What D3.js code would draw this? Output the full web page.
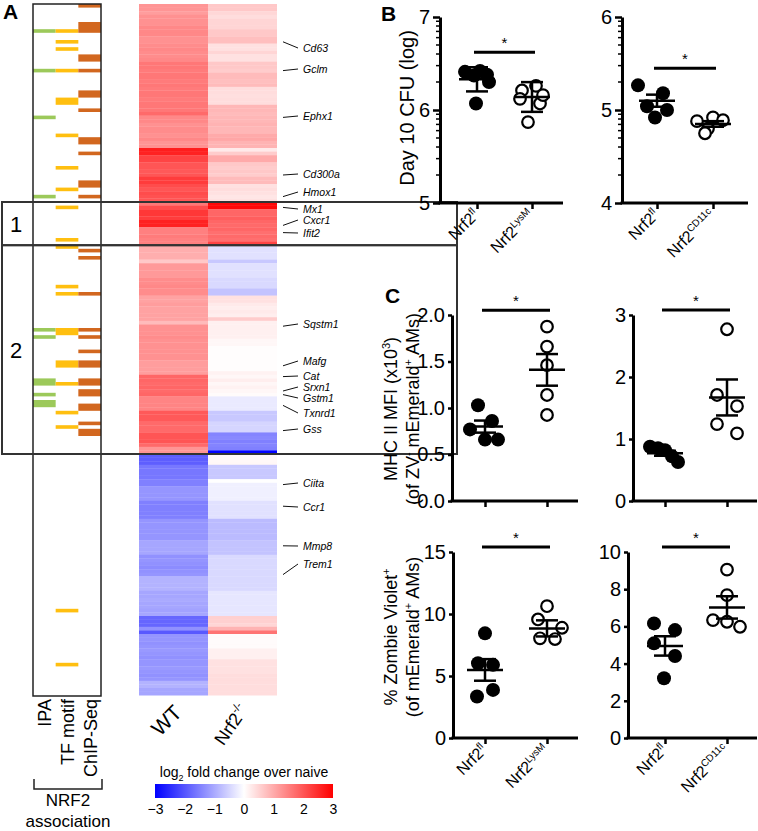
<!DOCTYPE html>
<html><head><meta charset="utf-8">
<script src="https://cdn.jsdelivr.net/npm/d3@7"></script>
<style>body{margin:0;background:#fff}svg{display:block}</style>
</head><body><svg id="c" width="758" height="831"></svg>
<script>
// ---------------- DATA ----------------
// Panel A heatmap: log2 fold change over naive, one value per gene row (top to bottom)
const wtLog2 = [
 1.25,1.25,1.15,1.3,1.3,1.3,1.4,1.4,1.4,1.3,
 1.3,1.35,1.4,1.35,1.35,1.4,1.6,1.6,1.55,1.6,
 1.6,1.55,1.6,1.55,1.6,1.6,1.55,1.6,1.6,1.6,
 1.75,1.4,1.4,1.3,1.35,1.35,1.3,1.4,1.25,1.3,
 2.65,2.6,2.2,2.2,2.0,2.0,1.95,2.0,2.3,2.3,
 2.1,2.0,2.1,2.05,2.0,1.6,2.1,2.35,2.35,2.3,
 2.6,2.6,1.5,1.5,1.55,1.5,1.5,0.95,0.95,0.95,
 0.95,0.65,1.2,1.2,1.2,1.2,1.35,1.35,1.4,1.35,
 1.35,1.1,1.1,1.15,1.1,1.1,1.1,1.1,0.8,1.3,
 1.3,1.3,1.35,1.3,1.3,1.3,1.3,1.3,1.3,1.15,
 1.15,1.15,1.15,1.8,1.8,1.75,1.8,1.75,1.8,1.45,
 1.45,1.45,1.45,1.95,1.95,1.95,1.75,1.75,1.75,2.0,
 2.0,2.0,1.75,1.25,1.25,-1.9,-1.9,-1.9,-1.6,-1.6,
 -1.6,-1.6,-1.5,-1.5,-1.25,-1.25,-1.25,-1.25,-1.5,-1.5,
 -1.5,-1.5,-1.5,-1.25,-1.25,-1.25,-1.25,-1.25,-1.25,-1.05,
 -1.05,-1.05,-1.05,-1.3,-1.25,-1.3,-1.35,-1.3,-1.25,-0.9,
 -0.9,-0.9,-0.9,-1.05,-1.05,-1.0,-1.05,-1.05,-1.1,-1.05,
 -1.8,-1.8,-1.8,-1.3,-1.95,-1.25,-1.25,-1.3,-1.25,-1.2,
 -1.25,-1.3,-1.25,-1.25,-1.2,-1.25,-1.3,-1.25,-0.9,-0.9,
 -1.05,-1.05];
const koLog2 = [
 0.65,0.65,0.47,0.4,0.5,0.5,0.5,0.65,0.65,0.75,
 0.75,0.35,0.35,0.5,0.35,0.35,0.65,0.65,0.6,0.8,
 0.8,0.75,0.8,0.4,0.4,0.38,0.4,0.4,0.85,0.85,
 0.8,0.85,0.85,0.9,0.85,0.85,1.0,1.05,0.9,0.9,
 0.25,0.6,1.0,1.0,0.65,0.6,0.65,0.6,0.8,0.8,
 0.35,0.4,0.35,0.3,0.35,2.9,2.9,1.8,1.8,1.9,
 1.8,1.75,1.8,1.7,1.75,1.7,2.2,-0.35,-0.35,-0.35,
 -0.35,-0.65,-0.35,-0.35,-0.35,-0.35,-0.45,-0.45,-0.45,-0.7,
 -0.7,0.35,0.35,0.25,0.2,0.25,0.2,0.6,0.18,0.18,
 0.18,0.18,0.18,0.1,0.1,0.02,0.02,0.02,0.02,0.02,
 0.02,0.02,0.15,0.1,0.2,0.1,0.15,0.1,0.05,-0.25,
 -0.25,-0.25,-0.25,-0.65,-0.65,-0.65,-0.5,-0.5,-0.5,-1.45,
 -1.4,-1.5,-1.45,-1.5,-3.0,0.08,0.08,0.1,-0.65,-0.65,
 -0.65,-0.65,0,-0.18,-0.18,-0.18,-0.18,-0.18,-0.35,-0.35,
 -0.35,-0.35,-0.35,-0.8,-0.8,-0.8,-0.8,-0.8,-0.8,-0.7,
 -0.7,-0.7,-0.7,-0.45,-0.45,-0.45,-0.45,-0.45,-0.45,-0.45,
 -0.45,-0.45,-0.45,-0.3,-0.3,-0.3,-0.3,-0.3,-0.3,-0.3,
 0.55,0.55,0.5,0.9,1.65,0.05,0.05,0.05,0.05,0.18,
 0.18,0.18,0.35,0.35,0.35,0.35,0.4,0.4,0.4,0.4,
 0.4,0.4];
const heatColumns = ["WT", "Nrf2"];
const heatColumnSup = ["", "-/-"];
const colorTicks = [-3, -2, -1, 0, 1, 2, 3];

// NRF2 association annotations: [first row, number of rows]
const annotColumns = ["IPA", "TF motif", "ChIP-Seq"];
const ipaRows = [[7,1],[18,1],[31,1],[53,1],[90,1],[92,1],[104,2],[108,1],[110,2]];
const tfRows = [[7,1],[10,1],[12,1],[18,1],[26,2],[36,1],[45,1],[51,1],[56,1],[65,1],[67,1],
  [78,1],[80,1],[90,2],[99,2],[105,1],[113,1],[117,1],[168,1],[183,1]];
const chipRows = [[0,1],[5,3],[14,2],[18,1],[24,2],[29,1],[37,2],[41,1],[49,2],[53,1],[68,1],
  [70,1],[80,1],[90,1],[92,1],[96,1],[99,2],[104,2],[107,2],[111,2],[116,1],[118,2]];

// clusters: [first row, row after last]
const clusterNames = ["1", "2"];
const clusterRows = [[55, 67], [67, 125]];

// labelled genes and their rows
const geneNames = ["Cd63","Gclm","Ephx1","Cd300a","Hmox1","Mx1","Cxcr1","Ifit2","Sqstm1","Mafg",
  "Cat","Srxn1","Gstm1","Txnrd1","Gss","Ciita","Ccr1","Mmp8","Trem1"];
const geneRows = [10,18,31,47,53,56,61,63,89,100,103,107,108,111,118,133,139,150,158];

// Panel B: Day 10 CFU (log10)
const cfuFlLysM = [6.41, 6.42, 6.37, 6.38, 6.30, 6.07];
const cfuKoLysM = [6.21, 6.26, 6.12, 6.07, 5.87, 6.16];
const cfuMeanLysM = [6.33, 6.14];
const cfuSemLysM = [0.13, 0.16];
const cfuFlCD11c = [5.265, 5.18, 5.04, 5.0, 4.92];
const cfuKoCD11c = [4.88, 4.92, 4.89, 4.80, 4.75];
const cfuMeanCD11c = [5.10, 4.85];
const cfuSemCD11c = [0.065, 0.03];

// Panel C top: MHC II MFI (x10^3)
const mhcFlLysM = [1.03, 0.77, 0.86, 0.66, 0.66];
const mhcKoLysM = [1.875, 1.66, 1.46, 1.14, 0.925];
const mhcMeanLysM = [0.80, 1.41];
const mhcSemLysM = [0.065, 0.17];
const mhcFlCD11c = [0.876, 0.85, 0.82, 0.72, 0.63];
const mhcKoCD11c = [2.77, 1.71, 1.53, 1.24, 1.09];
const mhcMeanCD11c = [0.77, 1.67];
const mhcSemCD11c = [0.04, 0.29];

// Panel C bottom: % Zombie Violet+
const zvFlLysM = [8.44, 6.03, 5.9, 3.88, 3.35];
const zvKoLysM = [10.63, 9.56, 8.89, 8.04, 7.98];
const zvMeanLysM = [5.49, 8.84];
const zvSemLysM = [0.87, 0.65];
const zvFlCD11c = [6.16, 5.8, 5.09, 4.41, 3.21];
const zvKoCD11c = [9.05, 7.68, 6.34, 6.25, 5.98];
const zvMeanCD11c = [4.95, 7.02];
const zvSemCD11c = [0.52, 0.6];

const groupsLysM = ["fl", "LysM"];
const groupsCD11c = ["fl", "CD11c"];

// ---------------- DRAW ----------------
const FONT = '"Liberation Sans", Arial, Helvetica, sans-serif';
const svg = d3.select("#c").attr("font-family", FONT);

// ===== Panel A =====
const nRows = wtLog2.length;
const yRow = d3.scaleBand().domain(d3.range(nRows)).range([4, 4 + 3.6 * nRows]);
const xHeat = d3.scaleBand().domain(heatColumns).range([139, 277]);
const heatColor = d3.scaleLinear().domain([-3, 0, 3]).range(["#0000ff", "#ffffff", "#ff0000"]);

[wtLog2, koLog2].forEach((vals, ci) => {
  svg.append("g").selectAll("rect").data(vals).join("rect")
    .attr("x", xHeat(heatColumns[ci])).attr("width", xHeat.bandwidth())
    .attr("y", (d, i) => yRow(i)).attr("height", yRow.bandwidth() + 0.3)
    .attr("fill", d => heatColor(d));
});

// annotation columns
const xAnn = d3.scaleBand().domain(annotColumns).range([33, 101]);
const annColors = ["#9cc95a", "#ffbf10", "#d2671f"];
[ipaRows, tfRows, chipRows].forEach((rows, ci) => {
  svg.append("g").selectAll("rect").data(rows).join("rect")
    .attr("x", xAnn(annotColumns[ci])).attr("width", xAnn.bandwidth())
    .attr("y", d => yRow(d[0])).attr("height", d => d[1] * yRow.bandwidth())
    .attr("fill", annColors[ci]);
});
svg.append("rect").attr("x", 33).attr("y", 4).attr("width", 68).attr("height", 692)
  .attr("fill", "none").attr("stroke", "#222").attr("stroke-width", 1.5);

// cluster boxes
clusterRows.forEach((r, i) => {
  const y0 = yRow(r[0]), y1 = yRow(r[1]);
  svg.append("rect").attr("x", 2).attr("y", y0).attr("width", 455).attr("height", y1 - y0)
    .attr("fill", "none").attr("stroke", "#333").attr("stroke-width", 2);
  svg.append("text").attr("x", 16).attr("y", (y0 + y1) / 2 + 8).attr("text-anchor", "middle")
    .attr("font-size", 22).text(clusterNames[i]);
});

// gene labels with leader lines
const geneLabelY = [48,69,116,174,192,209,220,233,324,361,376,387,398,413,429,483,507,546,564];
geneNames.forEach((g, i) => {
  const yc = yRow(geneRows[i]) + yRow.bandwidth() / 2;
  svg.append("line").attr("x1", 283).attr("x2", 298).attr("y1", yc).attr("y2", geneLabelY[i])
    .attr("stroke", "#111").attr("stroke-width", 1);
  svg.append("text").attr("x", 303).attr("y", geneLabelY[i]).attr("dy", "0.35em")
    .attr("font-size", 10.5).attr("font-style", "italic").text(g);
});

// column labels
[[183, 714, -45, 21], [249, 710, -55, 18]].forEach((p, i) => {
  const t = svg.append("text").attr("transform", `translate(${p[0]},${p[1]}) rotate(${p[2]})`)
    .attr("text-anchor", "end").attr("font-size", p[3]);
  t.append("tspan").text(heatColumns[i]);
  if (heatColumnSup[i]) t.append("tspan").attr("dy", -8).attr("font-size", 11).text(heatColumnSup[i]);
});

// annotation column labels
annotColumns.forEach((c, i) => {
  const x = xAnn(c) + xAnn.bandwidth() / 2 + 7;
  svg.append("text").attr("transform", `translate(${x},699) rotate(-90)`)
    .attr("text-anchor", "end").attr("font-size", 18).text(c);
});
svg.append("path").attr("d", "M34,779V789H102V779").attr("fill", "none").attr("stroke", "#222").attr("stroke-width", 1.5);
svg.append("text").attr("x", 68).attr("y", 806).attr("text-anchor", "middle").attr("font-size", 17).text("NRF2");
svg.append("text").attr("x", 68).attr("y", 827).attr("text-anchor", "middle").attr("font-size", 17).text("association");

// colour bar
const cbX = d3.scaleLinear().domain([-3, 3]).range([155, 333]);
const grad = svg.append("defs").append("linearGradient").attr("id", "cb");
colorTicks.forEach(v => grad.append("stop").attr("offset", (v + 3) / 6).attr("stop-color", heatColor(v)));
svg.append("rect").attr("x", 155).attr("y", 784).attr("width", 178).attr("height", 14).attr("fill", "url(#cb)");
const cbAxis = svg.append("g").attr("transform", "translate(0,798)")
  .call(d3.axisBottom(cbX).tickValues(colorTicks).tickFormat(d3.format("d")).tickSize(0).tickPadding(6));
cbAxis.select(".domain").remove();
cbAxis.attr("font-family", FONT).attr("font-size", 14).selectAll("text").attr("fill", "#000");
const cbt = svg.append("text").attr("x", 244).attr("y", 777).attr("text-anchor", "middle").attr("font-size", 14);
cbt.append("tspan").text("log");
cbt.append("tspan").attr("dy", 4).attr("font-size", 9).text("2");
cbt.append("tspan").attr("dy", -4).text(" fold change over naive");

// panel letters
[["A", 3, 19], ["B", 381, 21], ["C", 385, 303]].forEach(p =>
  svg.append("text").attr("x", p[1]).attr("y", p[2]).attr("font-size", 21).attr("font-weight", "bold").text(p[0]));

// ===== Dot plots =====
function dotPlot(p) {
  const g = svg.append("g");
  const ys = d3.scaleLinear().domain(p.domain).range([p.yBot, p.yTop]);
  const xs = d3.scalePoint().domain(p.groups).range(p.catX);
  // y axis
  const ga = g.append("g").attr("transform", `translate(${p.x0},0)`)
    .call(d3.axisLeft(ys).tickValues(p.ticks).tickFormat(p.fmt).tickSize(p.tick).tickSizeOuter(0).tickPadding(3));
  ga.attr("font-family", FONT).attr("font-size", 20);
  ga.select(".domain").attr("stroke", "#000").attr("stroke-width", 3);
  ga.selectAll(".tick line").attr("stroke", "#000").attr("stroke-width", 2.5);
  ga.selectAll("text").attr("fill", "#000");
  if (p.log) {
    const minor = [];
    d3.range(p.domain[0], p.domain[1]).forEach(e => d3.range(2, 10).forEach(k => minor.push(e + Math.log10(k))));
    g.append("g").selectAll("line").data(minor).join("line")
      .attr("x1", p.x0 - 4).attr("x2", p.x0).attr("y1", d => ys(d)).attr("y2", d => ys(d))
      .attr("stroke", "#000").attr("stroke-width", 1.5);
  }
  // x axis
  const gx = g.append("g").attr("transform", `translate(0,${p.yBot})`)
    .call(d3.axisBottom(xs).tickSize(6).tickFormat(""));
  gx.select(".domain").remove();
  gx.selectAll(".tick line").attr("stroke", "#000").attr("stroke-width", 2.5);
  g.append("line").attr("x1", p.x0 - 1.5).attr("x2", p.x1).attr("y1", p.yBot).attr("y2", p.yBot)
    .attr("stroke", "#000").attr("stroke-width", 3);
  if (p.labels) p.groups.forEach(gr => {
    const t = g.append("text").attr("transform", `translate(${xs(gr) + 3},${p.yBot + 13}) rotate(-45)`)
      .attr("text-anchor", "end").attr("font-size", 16);
    t.append("tspan").text("Nrf2");
    t.append("tspan").attr("dy", -6).attr("font-size", 10).text(gr);
  });
  // y title
  p.title.forEach((ln, i) => {
    const t = g.append("text").attr("transform", `translate(${ln.x},${p.titleY}) rotate(-90)`)
      .attr("text-anchor", "middle").attr("font-size", ln.fs);
    ln.parts.forEach(pt => {
      const s = t.append("tspan").text(pt[0]);
      if (pt[1]) s.attr("dy", pt[1]).attr("font-size", pt[2] || ln.fs);
    });
  });
  // significance
  const sy = ys(p.sigY);
  g.append("line").attr("x1", xs(p.groups[0]) - 3).attr("x2", xs(p.groups[1]) + 3).attr("y1", sy).attr("y2", sy)
    .attr("stroke", "#000").attr("stroke-width", 3);
  g.append("text").attr("x", (xs(p.groups[0]) + xs(p.groups[1])) / 2).attr("y", sy - 4)
    .attr("text-anchor", "middle").attr("font-size", 15).text("*");
  // points
  [p.a, p.b].forEach((vals, gi) => {
    const cx = xs(p.groups[gi]);
    const dx = gi === 0 ? p.adx : p.bdx;
    g.append("g").selectAll("circle").data(vals).join("circle")
      .attr("cx", (d, i) => cx + dx[i]).attr("cy", d => ys(d))
      .attr("r", gi === 0 ? 7 : 5.8)
      .attr("fill", gi === 0 ? "#000" : "#fff").attr("stroke", "#000").attr("stroke-width", gi === 0 ? 0 : 2.2);
  });
  // mean +/- sem
  p.groups.forEach((gr, gi) => {
    const cx = xs(gr), m = p.mean[gi], s = p.sem[gi];
    const l = (x1, x2, y1, y2) => g.append("line").attr("x1", x1).attr("x2", x2).attr("y1", y1).attr("y2", y2)
      .attr("stroke", "#000").attr("stroke-width", 2.5);
    l(cx - 18, cx + 18, ys(m), ys(m));
    l(cx, cx, ys(m - s), ys(m + s));
    l(cx - 11, cx + 11, ys(m - s), ys(m - s));
    l(cx - 11, cx + 11, ys(m + s), ys(m + s));
  });
}

const cfuTitle = [{ x: 414, fs: 20, parts: [["Day 10 CFU (log)"]] }];
const mhcTitle = [
  { x: 397, fs: 18, parts: [["MHC II MFI (x10"], ["3", -7, 11], [")", 7]] },
  { x: 419, fs: 18, parts: [["(of ZV"], ["-", -7, 11], [" mEmerald", 7], ["+", -7, 11], [" AMs)", 7]] }];
const zvTitle = [
  { x: 397, fs: 18, parts: [["% Zombie Violet"], ["+", -7, 11]] },
  { x: 419, fs: 18, parts: [["(of mEmerald"], ["+", -7, 11], [" AMs)", 7]] }];

dotPlot({ x0: 440, x1: 563, yTop: 17, yBot: 203, domain: [5, 7], ticks: [5, 6, 7], fmt: d3.format("d"), tick: 7, log: true, labels: true,
  groups: groupsLysM, catX: [477, 532], a: cfuFlLysM, adx: [-12, 3, -3, 10, 12, -1], b: cfuKoLysM, bdx: [-10, 4, -12, 8, -4, 11],
  mean: cfuMeanLysM, sem: cfuSemLysM, sigY: 6.62, title: cfuTitle, titleY: 108 });
dotPlot({ x0: 622, x1: 748, yTop: 17, yBot: 203, domain: [4, 6], ticks: [4, 5, 6], fmt: d3.format("d"), tick: 7, log: true, labels: true,
  groups: groupsCD11c, catX: [657, 713], a: cfuFlCD11c, adx: [-19, 6, -10, 10, -2], b: cfuKoCD11c, bdx: [-16, 0, 10, -5, -8],
  mean: cfuMeanCD11c, sem: cfuSemCD11c, sigY: 5.45, title: [], titleY: 108 });
dotPlot({ x0: 452, x1: 578, yTop: 315, yBot: 501, domain: [0, 2], ticks: [0, 0.5, 1, 1.5, 2], fmt: d3.format(".1f"), tick: 4, labels: false,
  groups: groupsLysM, catX: [485, 547], a: mhcFlLysM, adx: [-7, -15, 7, 0, 13], b: mhcKoLysM, bdx: [0, 0, 0, 0, 0],
  mean: mhcMeanLysM, sem: mhcSemLysM, sigY: 2.05, title: mhcTitle, titleY: 409 });
dotPlot({ x0: 633, x1: 757, yTop: 315, yBot: 501, domain: [0, 3], ticks: [0, 1, 2, 3], fmt: d3.format("d"), tick: 4, labels: false,
  groups: groupsCD11c, catX: [665, 727], a: mhcFlCD11c, adx: [-15, -7, 0, 7, 13], b: mhcKoCD11c, bdx: [0, -10, 10, -10, 10],
  mean: mhcMeanCD11c, sem: mhcSemCD11c, sigY: 3.08, title: [], titleY: 409 });
dotPlot({ x0: 453, x1: 578, yTop: 552, yBot: 738, domain: [0, 15], ticks: [0, 5, 10, 15], fmt: d3.format("d"), tick: 4, labels: true,
  groups: groupsLysM, catX: [485, 547], a: zvFlLysM, adx: [0, -7, 8, 8, -8], b: zvKoLysM, bdx: [0, -9, 15, -7, 8],
  mean: zvMeanLysM, sem: zvSemLysM, sigY: 15.4, title: zvTitle, titleY: 637 });
dotPlot({ x0: 628, x1: 757, yTop: 552, yBot: 738, domain: [0, 10], ticks: [0, 2, 4, 6, 8, 10], fmt: d3.format("d"), tick: 4, labels: true,
  groups: groupsCD11c, catX: [665, 727], a: zvFlCD11c, adx: [-11, 10, -11, 10, -1], b: zvKoCD11c, bdx: [0, 0, -14, 0, 13],
  mean: zvMeanCD11c, sem: zvSemCD11c, sigY: 10.27, title: [], titleY: 637 });
</script></body></html>
